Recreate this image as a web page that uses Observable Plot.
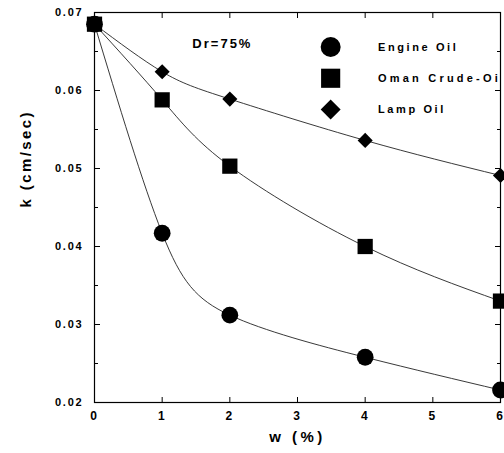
<!DOCTYPE html>
<html><head><meta charset="utf-8">
<script src="https://cdn.jsdelivr.net/npm/d3@7"></script>
<script src="https://cdn.jsdelivr.net/npm/@observablehq/plot@0.6"></script>
<style>
html,body{margin:0;padding:0;background:#fff;}
#chart svg{display:block;}
g[aria-label="y-axis tick label"] text, g[aria-label="x-axis tick label"] text {letter-spacing:1.8px;}
</style></head><body><div id="chart"></div>
<script>
// ---- data ----
const wPercent = [0, 1, 2, 4, 6];
const engineOil = [0.0685, 0.0417, 0.0312, 0.0258, 0.0216];
const omanCrude = [0.0685, 0.0588, 0.0503, 0.0400, 0.0330];
const lampOil = [0.0685, 0.0624, 0.0589, 0.0536, 0.0491];
const seriesNames = ["Engine Oil", "Oman Crude-Oil", "Lamp Oil"];
const seriesSymbols = ["circle", "square", "diamond2"];
const xTicks = [0, 1, 2, 3, 4, 5, 6];
const yMajorTicks = [0.02, 0.03, 0.04, 0.05, 0.06, 0.07];
const yMinorTicks = [0.025, 0.035, 0.045, 0.055, 0.065];
const annotation = "Dr=75%";
const xLabel = "w (%)";
const yLabel = "k (cm/sec)";

// ---- build table ----
const seriesValues = [engineOil, omanCrude, lampOil];
const markerR = [8.4, 8.6, 6.8];
const legendR = [10, 10.8, 9];
const rows = [];
seriesNames.forEach((name, i) => {
  wPercent.forEach((w, j) => rows.push({series: name, w, k: seriesValues[i][j], symbol: seriesSymbols[i], r: markerR[i], order: i}));
});
// draw order: engine, lamp, oman (square on top at x=0)
const drawOrder = [0, 2, 1];
const legend = seriesNames.map((name, i) => ({label: name, symbol: seriesSymbols[i], r: legendR[i], lx: 3.49, tx: 4.19, ly: 0.06558 - i * 0.00401}));

const font = "'Liberation Sans', Arial, Helvetica, sans-serif";

const chart = Plot.plot({
  width: 504, height: 453,
  marginLeft: 94, marginRight: 4, marginTop: 12, marginBottom: 51,
  x: {domain: [0, 6]},
  y: {domain: [0.02, 0.07]},
  r: {type: "identity"},
  symbol: {type: "identity"},
  style: {fontFamily: font, fontWeight: "bold", fontSize: "11px", background: "white", color: "black"},
  marks: [
    Plot.frame({stroke: "black", strokeWidth: 1.2}),
    Plot.axisX(xTicks, {anchor: "bottom", tickSize: -5, tickPadding: 14, label: null, fontSize: 12, fontWeight: "bold"}),
    Plot.axisX(xTicks, {anchor: "top", tickSize: -5, tickFormat: () => "", label: null}),
    Plot.axisY(yMajorTicks, {anchor: "left", tickSize: -6, tickPadding: 17, tickFormat: d3.format(".2f"), label: null, fontSize: 11, fontWeight: "bold"}),
    Plot.axisY(yMinorTicks, {anchor: "left", tickSize: -4, tickFormat: () => "", label: null}),
    Plot.axisY(yMajorTicks, {anchor: "right", tickSize: -6, tickFormat: () => "", label: null}),
    Plot.axisY(yMinorTicks, {anchor: "right", tickSize: -4, tickFormat: () => "", label: null}),
    Plot.text([xLabel], {frameAnchor: "bottom", dy: 39, fontSize: 15, fontWeight: "bold", text: d => d}),
    Plot.text([yLabel], {frameAnchor: "left", dx: -68, rotate: -90, fontSize: 15, fontWeight: "bold", text: d => d}),
    Plot.line(rows, {x: "w", y: "k", z: "series", curve: "natural", stroke: "#222", strokeWidth: 0.9}),
    ...drawOrder.map(i => Plot.dot(rows.filter(d => d.order === i), {x: "w", y: "k", symbol: "symbol", r: "r", fill: "black", stroke: "none"})),
    Plot.dot(legend, {x: "lx", y: "ly", symbol: "symbol", r: "r", fill: "black", stroke: "none"}),
    Plot.text(legend, {x: "tx", y: "ly", text: "label", textAnchor: "start", fontSize: 11, fontWeight: "bold", clip: "frame"}),
    Plot.text([annotation], {x: 1.89, y: 0.0660, text: d => d, fontSize: 13, fontWeight: "bold"})
  ]
});
document.getElementById("chart").appendChild(chart);
// letter spacing for annotation/legend texts
chart.querySelectorAll('g[aria-label="text"] text').forEach(t => {
  const s = t.textContent;
  if (s === seriesNames[1]) t.style.letterSpacing = "3.2px";
  else if (seriesNames.includes(s)) t.style.letterSpacing = "2.6px";
  else if (s === annotation) t.style.letterSpacing = "2px";
  else if (s === yLabel) t.style.letterSpacing = "2.4px";
  else if (s === xLabel) t.style.letterSpacing = "3.5px";
});
</script></body></html>
